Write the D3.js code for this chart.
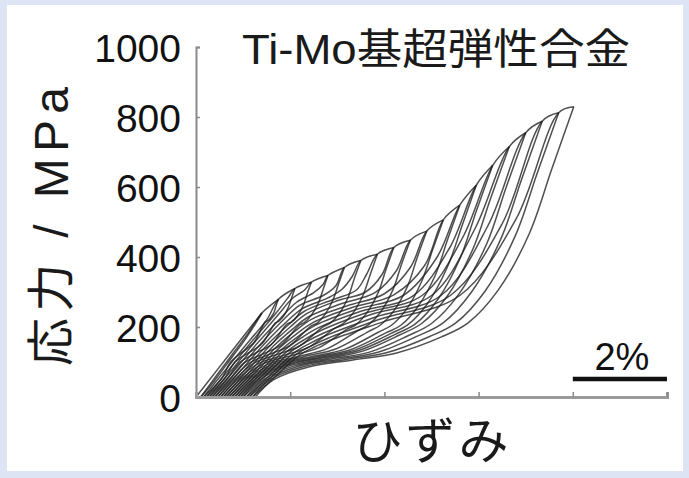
<!DOCTYPE html>
<html>
<head>
<meta charset="utf-8">
<script src="https://cdn.jsdelivr.net/npm/d3@7"></script>
<style>
  html, body { margin: 0; padding: 0; background: #dde5f4; }
  svg { display: block; }
</style>
</head>
<body>
<svg id="chart" width="689" height="478"></svg>
<script>
// Cyclic tensile test of a Ti-Mo superelastic alloy: strain (%) vs stress (MPa)
const stressTicks = [0, 200, 400, 600, 800, 1000];
const strainTicks = [2, 4, 6, 8, 10];

// Upper loading envelope [strain %, stress MPa]; each cycle peaks on one of these points
const envelope = [
  [0, 0], [0.5, 86], [1.0, 172], [1.4, 240], [1.75, 279], [2.1, 310], [2.45, 328],
  [2.8, 347], [3.15, 370], [3.5, 390], [3.85, 408], [4.2, 427], [4.55, 448],
  [4.9, 474], [5.25, 506], [5.6, 548], [5.95, 605], [6.3, 662], [6.65, 715],
  [7.0, 755], [7.35, 788], [7.7, 812], [8.02, 829]
];

// Maximum strain reached in each cycle
const peakStrain = [1.4, 1.75, 2.1, 2.45, 2.8, 3.15, 3.5, 3.85, 4.2, 4.55,
                    4.9, 5.25, 5.6, 5.95, 6.3, 6.65, 7.0, 7.35, 7.7, 8.02];

// Unloading branches, from the cycle peak down to the residual strain
const unloadPaths = [
  [[1.4,240],[1.2,196],[1.0,156],[0.8,120],[0.6,84],[0.4,48],[0.22,18],[0.10,0]],
  [[1.75,279],[1.70,261],[1.66,243],[1.59,227],[1.53,218],[1.47,214],[1.22,154],[0.98,128],[0.74,101],[0.54,52],[0.16,0]],
  [[2.1,310],[2.03,283],[1.96,256],[1.86,231],[1.76,217],[1.68,211],[1.40,152],[1.11,126],[0.83,100],[0.60,52],[0.22,0]],
  [[2.45,328],[2.36,295],[2.28,262],[2.16,233],[2.04,215],[1.93,208],[1.60,150],[1.26,125],[0.93,99],[0.66,52],[0.28,0]],
  [[2.8,347],[2.70,308],[2.60,269],[2.45,234],[2.31,214],[2.19,205],[1.80,148],[1.42,123],[1.03,98],[0.72,52],[0.34,0]],
  [[3.15,370],[3.03,324],[2.91,278],[2.74,236],[2.58,212],[2.43,202],[1.99,147],[1.56,122],[1.13,97],[0.78,52],[0.40,0]],
  [[3.5,390],[3.36,338],[3.23,285],[3.04,238],[2.85,211],[2.68,199],[2.19,145],[1.71,121],[1.23,97],[0.84,52],[0.46,0]],
  [[3.85,408],[3.70,350],[3.55,292],[3.33,239],[3.12,209],[2.94,196],[2.40,143],[1.87,119],[1.33,96],[0.90,52],[0.52,0]],
  [[4.2,427],[4.03,363],[3.87,299],[3.63,241],[3.40,207],[3.20,193],[2.61,141],[2.02,118],[1.43,95],[0.96,52],[0.58,0]],
  [[4.55,448],[4.36,378],[4.18,306],[3.92,243],[3.66,206],[3.44,190],[2.80,139],[2.17,116],[1.53,94],[1.02,52],[0.64,0]],
  [[4.9,474],[4.69,396],[4.49,316],[4.20,246],[3.91,205],[3.66,187],[2.98,138],[2.31,116],[1.62,93],[1.08,52],[0.70,0]],
  [[5.25,506],[5.02,419],[4.79,330],[4.47,251],[4.15,205],[3.87,185],[3.15,136],[2.44,115],[1.72,93],[1.14,52],[0.76,0]],
  [[5.6,548],[5.34,449],[5.08,348],[4.71,258],[4.35,205],[4.03,183],[3.28,135],[2.54,114],[1.80,92],[1.20,52],[0.82,0]],
  [[5.95,605],[5.65,490],[5.34,372],[4.92,268],[4.50,207],[4.13,181],[3.37,134],[2.62,113],[1.87,91],[1.26,52],[0.88,0]],
  [[6.3,662],[5.95,531],[5.61,397],[5.13,278],[4.65,208],[4.23,179],[3.46,133],[2.70,112],[1.93,91],[1.32,52],[0.94,0]],
  [[6.65,715],[6.26,569],[5.87,420],[5.33,287],[4.79,210],[4.32,177],[3.54,131],[2.78,110],[2.00,90],[1.38,52],[1.00,0]],
  [[7.0,755],[6.58,597],[6.17,437],[5.58,294],[5.00,210],[4.50,175],[3.70,129],[2.90,109],[2.09,89],[1.45,51],[1.07,0]],
  [[7.35,788],[6.91,621],[6.47,451],[5.85,300],[5.24,211],[4.70,174],[3.86,128],[3.03,108],[2.18,88],[1.51,50],[1.13,0]],
  [[7.7,812],[7.24,638],[6.78,461],[6.14,303],[5.51,211],[4.95,172],[4.06,127],[3.18,107],[2.29,87],[1.58,50],[1.20,0]],
  [[8.02,829],[7.55,650],[7.08,468],[6.42,306],[5.77,211],[5.20,171],[4.26,126],[3.33,106],[2.39,86],[1.64,49],[1.26,0]]
];

// Reloading branches (cycles 2..20), from the previous residual strain back up to the previous peak
const reloadPaths = [
  [[0.10,0],[0.40,55],[0.80,127],[1.10,181],[1.4,240]],
  [[0.16,0],[0.66,83],[1.16,165],[1.50,220],[1.75,279]],
  [[0.22,0],[0.72,82],[1.22,164],[1.70,240],[1.95,283],[2.1,310]],
  [[0.28,0],[0.78,81],[1.28,162],[1.75,236],[2.05,282],[2.30,305],[2.45,328]],
  [[0.34,0],[0.84,80],[1.34,159],[1.80,226],[2.13,270],[2.50,298],[2.70,322],[2.8,347]],
  [[0.40,0],[0.90,78],[1.40,156],[1.85,220],[2.20,262],[2.70,290],[2.97,318],[3.15,370]],
  [[0.46,0],[0.96,77],[1.46,153],[1.90,212],[2.25,252],[2.80,283],[3.10,308],[3.32,345],[3.5,390]],
  [[0.52,0],[1.02,75],[1.52,150],[1.95,205],[2.30,245],[2.90,278],[3.40,305],[3.62,350],[3.85,408]],
  [[0.58,0],[1.08,74],[1.58,148],[2.00,200],[2.35,238],[3.00,275],[3.60,300],[3.95,350],[4.2,427]],
  [[0.64,0],[1.14,72],[1.64,145],[2.05,194],[2.40,230],[3.10,267],[3.80,298],[4.25,360],[4.55,448]],
  [[0.70,0],[1.20,71],[1.70,142],[2.10,188],[2.45,222],[3.20,260],[4.00,295],[4.55,370],[4.9,474]],
  [[0.76,0],[1.26,70],[1.76,139],[2.15,182],[2.50,214],[3.30,255],[4.20,292],[4.85,375],[5.25,506]],
  [[0.82,0],[1.32,68],[1.82,136],[2.20,176],[2.55,206],[3.40,250],[4.40,290],[5.12,400],[5.6,548]],
  [[0.88,0],[1.38,67],[1.88,134],[2.25,170],[2.60,198],[3.50,245],[4.60,288],[5.38,425],[5.95,605]],
  [[0.94,0],[1.44,66],[1.94,131],[2.30,164],[2.65,190],[3.60,240],[4.80,290],[5.66,455],[6.3,662]],
  [[1.00,0],[1.50,64],[2.00,128],[2.35,158],[2.70,182],[3.70,235],[5.00,290],[5.92,480],[6.65,715]],
  [[1.07,0],[1.57,62],[2.07,125],[2.40,152],[2.75,175],[3.80,228],[5.20,290],[6.20,490],[7.0,755]],
  [[1.13,0],[1.63,61],[2.13,122],[2.45,146],[2.80,168],[3.90,222],[5.40,290],[6.50,495],[7.35,788]],
  [[1.20,0],[1.70,60],[2.20,120],[2.50,142],[2.85,162],[4.00,216],[5.60,290],[6.80,510],[7.7,812]]
];

const svg = d3.select("#chart");

// white panel inside the tinted frame
svg.append("rect").attr("x", 7).attr("y", 5).attr("width", 676).attr("height", 466).attr("fill", "#ffffff");

const x = d3.scaleLinear().domain([0, 10]).range([196, 667]);
const y = d3.scaleLinear().domain([0, 1000]).range([397, 47]);

const line = d3.line()
  .x(d => x(d[0]))
  .y(d => y(d[1]))
  .curve(d3.curveCatmullRom.alpha(0.5));

// loading branch of each cycle: reload, then along the envelope to the new peak
const loadPaths = peakStrain.map((p, i) => {
  if (i === 0) return envelope.filter(d => d[0] <= p);
  const reload = reloadPaths[i - 1];
  const joinStrain = reload[reload.length - 1][0];
  return reload.concat(envelope.filter(d => d[0] > joinStrain && d[0] <= p));
});

// semi-transparent strokes so the overlapping loops near the origin build up darker
const curves = svg.append("g")
  .attr("fill", "none")
  .attr("stroke", "#1e1e1e")
  .attr("stroke-opacity", 0.78)
  .attr("stroke-width", 1.5)
  .attr("stroke-linejoin", "round");

curves.selectAll("path.load").data(loadPaths).join("path")
  .attr("class", "load").attr("d", line);
curves.selectAll("path.unload").data(unloadPaths).join("path")
  .attr("class", "unload").attr("d", line);

// axes
const yAxis = d3.axisLeft(y).tickValues(stressTicks).tickSize(-4).tickPadding(15).tickFormat(d3.format("d"));
const gy = svg.append("g").attr("transform", `translate(${x(0)},0)`).call(yAxis);
gy.select(".domain").attr("stroke", "#8a8a8a").attr("stroke-width", 2);
gy.selectAll(".tick line").attr("stroke", "#8a8a8a").attr("stroke-width", 1.5);
gy.selectAll(".tick text")
  .attr("font-family", "'Liberation Sans', Arial, sans-serif")
  .attr("font-size", 39).attr("fill", "#111").attr("dy", "0.36em");

const xAxis = d3.axisBottom(x).tickValues(strainTicks).tickSize(-5).tickFormat("");
const gx = svg.append("g").attr("transform", `translate(0,${y(0)})`).call(xAxis);
gx.select(".domain").attr("stroke", "#9a9a9a").attr("stroke-width", 3);
gx.selectAll(".tick line").attr("stroke", "#8a8a8a").attr("stroke-width", 1.5);

// titles
svg.append("text")
  .attr("x", 242).attr("y", 64)
  .attr("font-family", "'Liberation Sans', 'Noto Sans CJK JP', sans-serif")
  .attr("font-size", 42).attr("fill", "#1a1a1a")
  .attr("textLength", 388).attr("lengthAdjust", "spacingAndGlyphs")
  .text("Ti-Mo基超弾性合金");

svg.append("text")
  .attr("transform", "translate(68,366) rotate(-90)")
  .attr("font-family", "'Liberation Sans', 'Noto Sans CJK JP', sans-serif")
  .attr("font-size", 48).attr("fill", "#1a1a1a")
  .attr("textLength", 279).attr("lengthAdjust", "spacing")
  .text("応力 / MPa");

svg.append("text")
  .attr("x", 432).attr("y", 459).attr("text-anchor", "middle")
  .attr("font-family", "'Noto Sans CJK JP', sans-serif")
  .attr("font-size", 50).attr("fill", "#1a1a1a")
  .attr("letter-spacing", 3)
  .text("ひずみ");

// 2% strain scale bar
svg.append("line")
  .attr("x1", x(8)).attr("x2", x(10)).attr("y1", 379).attr("y2", 379)
  .attr("stroke", "#111").attr("stroke-width", 4.5);
svg.append("text")
  .attr("x", (x(8) + x(10)) / 2 + 2).attr("y", 370).attr("text-anchor", "middle")
  .attr("font-family", "'Liberation Sans', Arial, sans-serif")
  .attr("font-size", 38).attr("fill", "#111")
  .text("2%");
</script>
</body>
</html>
